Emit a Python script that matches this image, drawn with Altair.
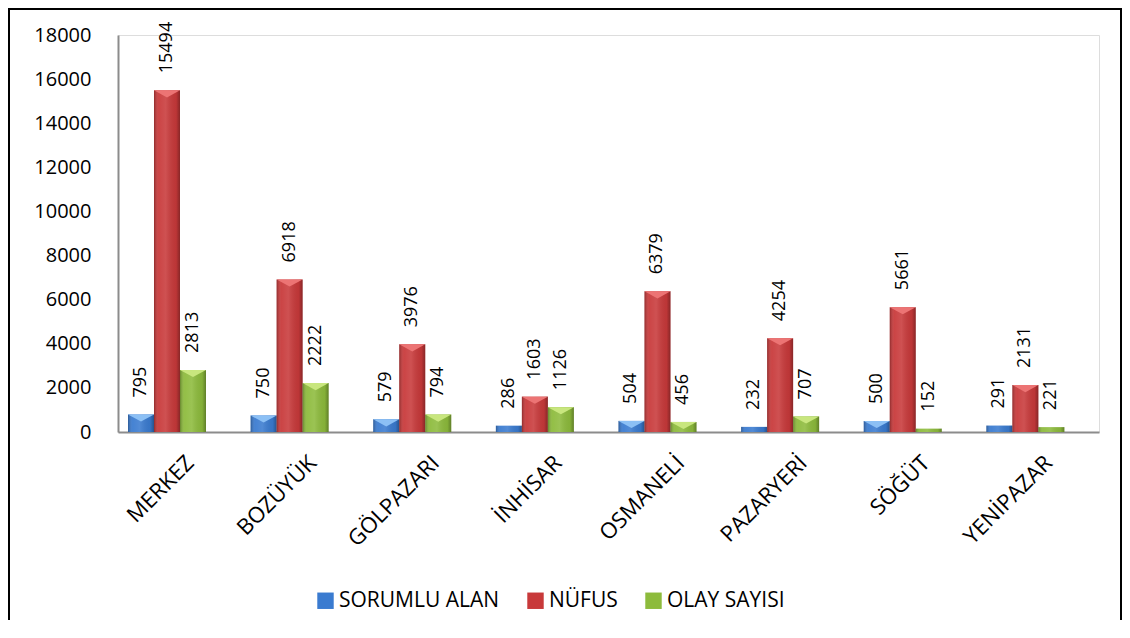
import altair as alt
import pandas as pd

# ---- data ----
categories = ["MERKEZ", "BOZÜYÜK", "GÖLPAZARI", "İNHİSAR", "OSMANELİ", "PAZARYERİ", "SÖĞÜT", "YENİPAZAR"]
series = ["SORUMLU ALAN", "NÜFUS", "OLAY SAYISI"]
sorumlu_alan = [795, 750, 579, 286, 504, 232, 500, 291]
nufus = [15494, 6918, 3976, 1603, 6379, 4254, 5661, 2131]
olay_sayisi = [2813, 2222, 794, 1126, 456, 707, 152, 221]
y_ticks = [0, 2000, 4000, 6000, 8000, 10000, 12000, 14000, 16000, 18000]

# ---- styles ----
colors = ["#3A7BD0", "#C8393A", "#8DBB3C"]
light = ["#8CC0F5", "#EC7474", "#C8E67E"]
FONT = "Open Sans"
W, H = 981, 397

rows = []
for i, c in enumerate(categories):
    for s, vals in zip(series, [sorumlu_alan, nufus, olay_sayisi]):
        rows.append({"ilce": c, "seri": s, "deger": vals[i]})
df = pd.DataFrame(rows)

x = alt.X(
    "ilce:N", sort=categories,
    scale=alt.Scale(paddingInner=0, paddingOuter=0),
    axis=alt.Axis(title=None, labelAngle=-45, labelAlign="right", labelBaseline="middle",
                  labelFontSize=22, labelFont=FONT, labelColor="#000000", labelOffset=11,
                  labelPadding=27, ticks=False, tickSize=0, domainColor="#8C8C8C",
                  domainWidth=2, grid=False, labelLimit=0),
)
xo = alt.XOffset("seri:N", sort=series,
                 scale=alt.Scale(paddingInner=0, paddingOuter=0.858, align=0.224))
y = alt.Y(
    "deger:Q",
    scale=alt.Scale(domain=[0, 18000], nice=False),
    axis=alt.Axis(title=None, values=y_ticks, format="d", labelFontSize=20, labelFont=FONT,
                  labelColor="#000000", labelPadding=27, ticks=False, tickSize=0,
                  domainColor="#8C8C8C", domainWidth=2, grid=False),
)

base = alt.Chart(df)

bars = base.mark_bar().encode(
    x=x, xOffset=xo, y=y,
    color=alt.Color("seri:N", sort=series, scale=alt.Scale(domain=series, range=colors),
                    legend=alt.Legend(title=None, orient="none", legendX=197, legendY=555,
                                      direction="horizontal", symbolType="square",
                                      symbolSize=270, labelFontSize=21, labelFont=FONT,
                                      labelColor="#000000", labelOffset=3, columnPadding=25,
                                      padding=0, symbolStrokeWidth=0, symbolOpacity=1,
                                      labelLimit=0)),
)

shade = base.mark_bar(
    fill=alt.Gradient(
        gradient="linear", x1=0, x2=1, y1=0, y2=0,
        stops=[
            alt.GradientStop(offset=0, color="rgba(0,0,0,0.28)"),
            alt.GradientStop(offset=0.18, color="rgba(255,255,255,0.06)"),
            alt.GradientStop(offset=0.45, color="rgba(255,255,255,0.12)"),
            alt.GradientStop(offset=0.85, color="rgba(0,0,0,0.06)"),
            alt.GradientStop(offset=1, color="rgba(0,0,0,0.32)"),
        ],
    )
).encode(x=x, xOffset=xo, y=y)

caps = base.mark_point(
    shape="M-1,0L1,0L0,0.55Z", filled=True, size=676, opacity=1, strokeWidth=0
).encode(
    x=x, xOffset=xo, y=y,
    fill=alt.Fill("seri:N", sort=series, scale=alt.Scale(domain=series, range=light), legend=None),
).transform_filter(alt.datum.deger >= 400)

labels = base.mark_text(
    angle=270, align="left", baseline="middle", dx=17, fontSize=18, font=FONT, color="#000000"
).encode(x=x, xOffset=xo, y=y, text=alt.Text("deger:Q", format="d"))

frame = alt.Chart(alt.Data(values=[{}])).mark_rect(
    fill="transparent", stroke="#000000", strokeWidth=2
).encode(
    x=alt.value(-109), x2=alt.value(1003), y=alt.value(-26), y2=alt.value(700)
)

chart = alt.layer(bars, shade, caps, labels, frame).resolve_scale(
    color="independent", fill="independent"
).properties(
    width=W, height=H,
    autosize=alt.AutoSizeParams(type="none"),
    padding={"left": 110, "top": 27, "right": 23, "bottom": 188},
).configure_view(stroke=None).configure(background="white")

chart.save("out.html", embed_options={"renderer": "svg", "actions": False})
